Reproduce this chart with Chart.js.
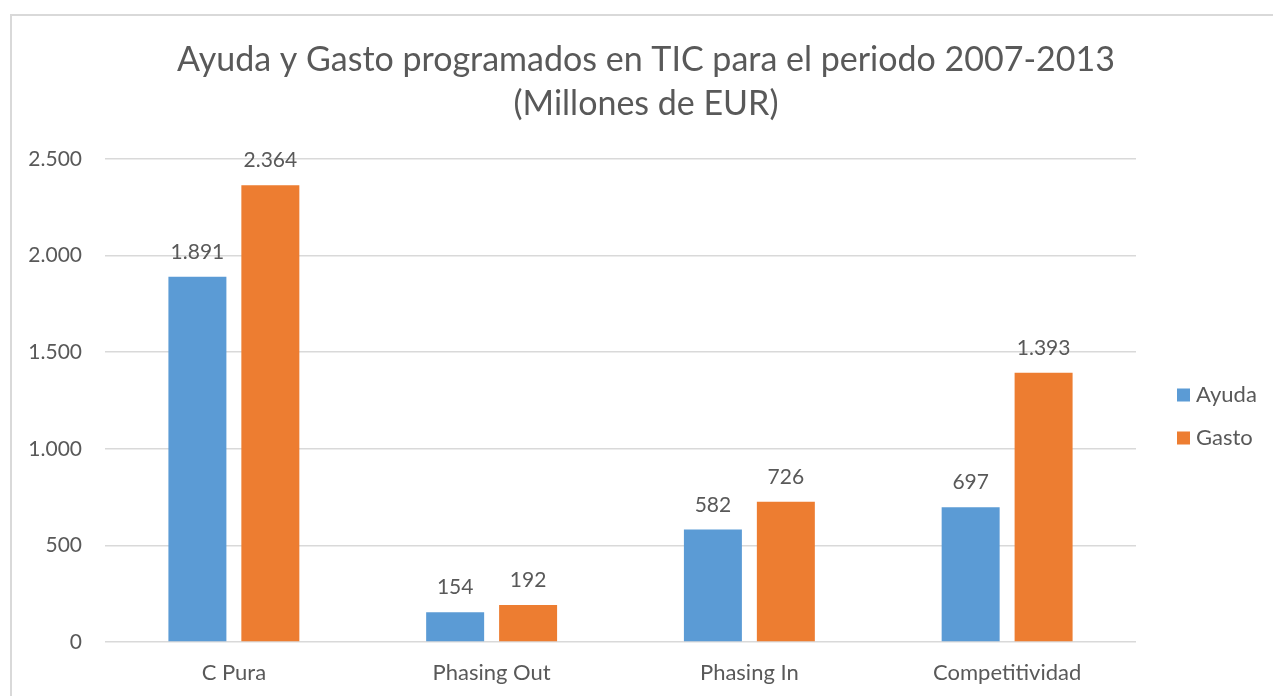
<!DOCTYPE html>
<html>
<head>
<meta charset="utf-8">
<script src="https://cdn.jsdelivr.net/npm/chart.js@4"></script>
<style>
    html, body { margin: 0; padding: 0; background: #fff; overflow: hidden; }
    #frame {
        position: absolute; left: 10px; top: 14px;
        width: 1270px; height: 700px;
        border: 2px solid #d9d9d9;
        box-sizing: border-box;
    }
    #wrap { position: absolute; left: 12px; top: 16px; width: 1268px; height: 680px; }
</style>
</head>
<body>
<div id="frame"></div>
<div id="wrap"><canvas id="chart"></canvas></div>
<script>
    // Data
    // ----------------------------------------------
    const categories = ['C Pura', 'Phasing Out', 'Phasing In', 'Competitividad'];
    const ayudaValues = [1891, 154, 582, 697];
    const gastoValues = [2364, 192, 726, 1393];
    const yTicks = [0, 500, 1000, 1500, 2000, 2500];

    const textColor = '#595959';
    const gridColor = '#d9d9d9';
    const fontFamily = 'Lato, "Open Sans", sans-serif';

    // 2364 -> "2.364"
    const fmt = v => String(v).replace(/\B(?=(\d{3})+(?!\d))/g, '.');

    // Value labels on top of the bars
    const barLabels = {
        id: 'barLabels',
        afterDatasetsDraw(chart) {
            const ctx = chart.ctx;
            ctx.save();
            ctx.font = `21px ${fontFamily}`;
            ctx.fillStyle = textColor;
            ctx.textAlign = 'center';
            ctx.textBaseline = 'alphabetic';
            chart.data.datasets.forEach((ds, i) => {
                chart.getDatasetMeta(i).data.forEach((bar, j) => {
                    ctx.fillText(fmt(ds.data[j]), bar.x, bar.y - 18);
                });
            });
            ctx.restore();
        }
    };

    // Vertical legend on the right, next to the plot
    const sideLegend = {
        id: 'sideLegend',
        afterDraw(chart) {
            const ctx = chart.ctx;
            const x = chart.chartArea.right + 41;
            ctx.save();
            ctx.font = `22px ${fontFamily}`;
            ctx.textBaseline = 'middle';
            ctx.textAlign = 'left';
            chart.data.datasets.forEach((ds, i) => {
                const y = 379 + i * 43;
                ctx.fillStyle = ds.backgroundColor;
                ctx.fillRect(x, y - 6.5, 13, 13);
                ctx.fillStyle = textColor;
                ctx.fillText(ds.label, x + 19, y);
            });
            ctx.restore();
        }
    };

    new Chart(document.getElementById('chart'), {
        type: 'bar',
        data: {
            labels: categories,
            datasets: [
                { label: 'Ayuda', data: ayudaValues, backgroundColor: '#5B9BD5' },
                { label: 'Gasto', data: gastoValues, backgroundColor: '#ED7D31' }
            ]
        },
        options: {
            responsive: true,
            maintainAspectRatio: false,
            animation: false,
            categoryPercentage: 0.566,
            barPercentage: 0.795,
            layout: { padding: 0 },
            plugins: {
                tooltip: { enabled: false },
                legend: { display: false },
                title: {
                    display: true,
                    text: ['Ayuda y Gasto programados en TIC para el periodo 2007-2013', '(Millones de EUR)'],
                    color: textColor,
                    font: { family: fontFamily, size: 34, weight: 'normal', lineHeight: 1.294 },
                    padding: { top: 22, bottom: 33 }
                }
            },
            scales: {
                y: {
                    min: 0,
                    max: 2500,
                    afterBuildTicks: axis => { axis.ticks = yTicks.map(v => ({ value: v })); },
                    afterFit: axis => { axis.width = 93; },
                    grid: { color: gridColor, lineWidth: 1.5, drawTicks: false },
                    border: { display: false },
                    ticks: {
                        color: textColor,
                        font: { family: fontFamily, size: 21 },
                        padding: 23,
                        callback: v => fmt(v)
                    }
                },
                // empty right-hand axis that keeps room for the legend
                legendRoom: {
                    position: 'right',
                    afterFit: axis => { axis.width = 144; },
                    grid: { display: false },
                    border: { display: false },
                    ticks: { display: false }
                },
                x: {
                    afterFit: axis => { axis.height = 54; },
                    grid: { display: false },
                    border: { display: false },
                    ticks: {
                        color: textColor,
                        font: { family: fontFamily, size: 22 },
                        padding: 10
                    }
                }
            }
        },
        plugins: [barLabels, sideLegend]
    });
</script>
</body>
</html>
